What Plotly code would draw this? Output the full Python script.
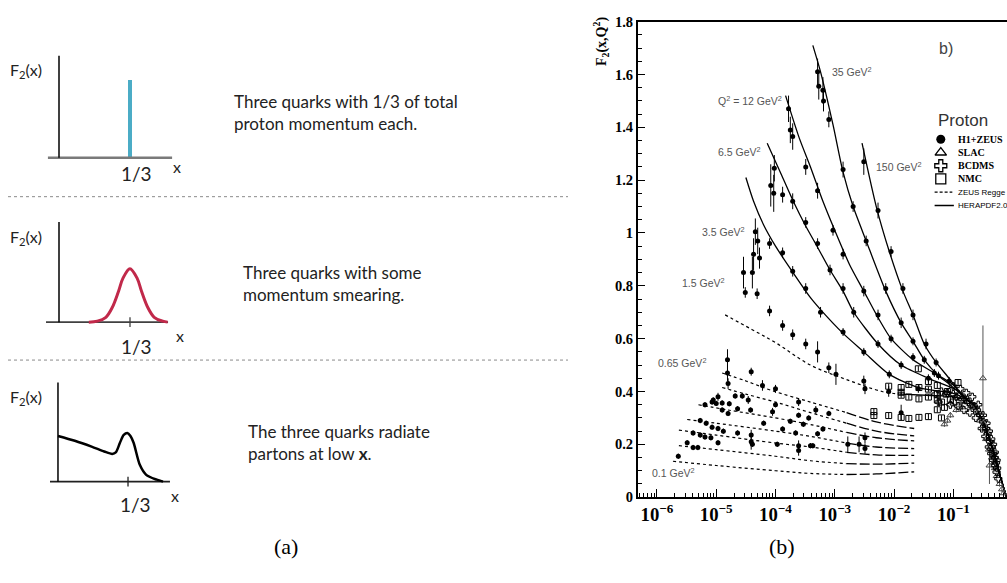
import numpy as np
import plotly.graph_objects as go

W, H = 1007, 583

# ================= Panel (a): schematic sketches (x = momentum fraction, F2 in arb. units) =================
peak_x = 1 / 3
tick_y = [-0.05, 0.05]

axis1_h = [-0.052, 0.531]
axis1_v = [0.0, 1.05]
bar_height = 0.80

axis2_h = [-0.061, 0.512]
axis2_v = [0.0, 1.03]
smear_x = [0.14, 0.18, 0.22, 0.25, 0.28, 0.30, 0.333, 0.367, 0.387, 0.417, 0.447, 0.487, 0.51]
smear_y = [0.0, 0.01, 0.05, 0.15, 0.32, 0.45, 0.55, 0.45, 0.32, 0.15, 0.05, 0.01, 0.0]

axis3_h = [-0.038, 0.533]
axis3_v = [0.0, 1.02]
rad_x = [0.0, 0.08, 0.16, 0.22, 0.258, 0.275, 0.295, 0.313, 0.33, 0.345, 0.36, 0.39, 0.42, 0.47, 0.50]
rad_y = [0.47, 0.42, 0.36, 0.31, 0.285, 0.30, 0.40, 0.48, 0.50, 0.47, 0.40, 0.17, 0.07, 0.02, 0.0]

text1 = "Three quarks with 1/3 of total<br>proton momentum each."
text2 = "Three quarks with some<br>momentum smearing."
text3 = "The three quarks radiate<br>partons at low <b>x</b>."

# ================= Panel (b): F2(x,Q^2) — values as log10(x), F2 =================
# HERAPDF2.0 curves (solid)
c150_lx = [-2.54, -2.3, -2.08, -1.85, -1.68, -1.49, -1.29, -1.07, -0.9]
c150_f2 = [1.34, 1.10, 0.93, 0.78, 0.69, 0.58, 0.51, 0.45, 0.40]
c35_lx = [-3.37, -3.24, -3.03, -2.86, -2.69, -2.47, -2.14, -1.88, -1.68, -1.49, -1.25, -1.08, -0.9]
c35_f2 = [1.71, 1.61, 1.41, 1.23, 1.10, 0.97, 0.78, 0.66, 0.59, 0.52, 0.46, 0.43, 0.395]
c12_lx = [-3.83, -3.6, -3.41, -3.2, -3.0, -2.75, -2.51, -2.27, -2.05, -1.68, -1.32, -1.03, -0.9]
c12_f2 = [1.52, 1.36, 1.25, 1.12, 1.01, 0.88, 0.78, 0.68, 0.60, 0.52, 0.47, 0.43, 0.40]
c6_lx = [-4.14, -3.9, -3.69, -3.5, -3.3, -3.08, -2.86, -2.68, -2.27, -1.88, -1.42, -1.03, -0.9]
c6_f2 = [1.34, 1.22, 1.115, 1.03, 0.95, 0.86, 0.78, 0.70, 0.58, 0.50, 0.45, 0.415, 0.40]
c3_lx = [-4.5, -4.37, -4.2, -4.0, -3.75, -3.41, -3.24, -2.86, -2.51, -2.08, -1.59, -1.03, -0.9]
c3_f2 = [1.21, 1.12, 1.03, 0.95, 0.865, 0.755, 0.71, 0.62, 0.55, 0.465, 0.415, 0.395, 0.385]
c1s_lx = [-1.88, -1.37, -1.0, -0.9]
c1s_f2 = [0.39, 0.385, 0.38, 0.375]
tail_lx = [-0.75, -0.64, -0.5, -0.41, -0.3, -0.24, -0.15, -0.1]
tail_f2 = [0.365, 0.345, 0.285, 0.235, 0.155, 0.105, 0.035, 0.0]

# ZEUS Regge curves (dashed), low Q^2
c1d_lx = [-4.85, -4.4, -4.0, -3.41, -2.8, -2.2, -1.88]
c1d_f2 = [0.69, 0.635, 0.585, 0.50, 0.445, 0.40, 0.39]
cG_lx = [-4.9, -4.5, -4.08, -3.41, -2.8, -2.3, -1.66]
cG_f2 = [0.47, 0.44, 0.405, 0.36, 0.32, 0.285, 0.26]
cF_lx = [-4.9, -4.5, -4.0, -3.41, -2.8, -2.3, -1.66]
cF_f2 = [0.415, 0.39, 0.36, 0.32, 0.28, 0.25, 0.232]
cE_lx = [-5.3, -4.8, -4.0, -3.41, -2.8, -2.3, -1.66]
cE_f2 = [0.35, 0.33, 0.30, 0.275, 0.245, 0.225, 0.213]
cD_lx = [-5.49, -5.0, -4.0, -3.41, -2.8, -2.3, -1.66]
cD_f2 = [0.294, 0.28, 0.25, 0.23, 0.205, 0.19, 0.184]
cC_lx = [-5.63, -5.0, -4.0, -3.41, -2.8, -2.3, -1.66]
cC_f2 = [0.254, 0.235, 0.205, 0.19, 0.17, 0.16, 0.158]
cB_lx = [-5.63, -5.0, -4.0, -3.41, -2.8, -2.3, -1.66]
cB_f2 = [0.195, 0.18, 0.155, 0.138, 0.127, 0.125, 0.129]
cA_lx = [-5.73, -5.0, -4.0, -3.41, -2.8, -2.3, -1.66]
cA_f2 = [0.136, 0.12, 0.10, 0.09, 0.086, 0.088, 0.096]
regge_split = -2.8

# H1+ZEUS data
p150_lx = [-2.51, -2.27, -2.05, -1.85, -1.68, -1.46, -1.29, -1.07]
p150_f2 = [1.27, 1.085, 0.93, 0.79, 0.69, 0.58, 0.51, 0.44]
p150_er = [0.05, 0.03, 0.02, 0.02, 0.02, 0.02, 0.015, 0.015]
p35_lx = [-3.29, -3.27, -3.20, -3.19, -3.10, -2.86, -2.69, -2.47, -2.14, -1.88, -1.68, -1.49, -1.25]
p35_f2 = [1.61, 1.555, 1.54, 1.50, 1.43, 1.24, 1.10, 0.97, 0.79, 0.66, 0.59, 0.52, 0.46]
p35_er = [0.05, 0.05, 0.05, 0.04, 0.03, 0.03, 0.02, 0.02, 0.02, 0.02, 0.015, 0.015, 0.015]
p12_lx = [-3.78, -3.75, -3.71, -3.49, -3.29, -3.03, -2.86, -2.51, -2.27, -2.05, -1.68, -1.32]
p12_f2 = [1.47, 1.39, 1.365, 1.25, 1.16, 1.01, 0.92, 0.78, 0.69, 0.60, 0.53, 0.47]
p12_er = [0.05, 0.05, 0.05, 0.03, 0.03, 0.02, 0.02, 0.02, 0.02, 0.015, 0.015, 0.015]
p6_lx = [-4.08, -4.03, -4.02, -3.88, -3.71, -3.49, -3.29, -3.08, -2.86, -2.68, -2.27, -1.88, -1.42]
p6_f2 = [1.18, 1.15, 1.245, 1.145, 1.12, 1.04, 0.96, 0.86, 0.79, 0.70, 0.58, 0.50, 0.45]
p6_er = [0.08, 0.07, 0.05, 0.03, 0.03, 0.02, 0.02, 0.02, 0.02, 0.02, 0.015, 0.015, 0.015]
p3_lx = [-4.37, -4.34, -4.30, -4.27, -4.10, -3.88, -3.71, -3.49, -3.24, -2.86, -2.51, -2.08, -1.59]
p3_f2 = [0.92, 1.005, 0.97, 0.905, 0.96, 0.925, 0.855, 0.79, 0.70, 0.625, 0.55, 0.465, 0.41]
p3_er = [0.06, 0.05, 0.05, 0.04, 0.02, 0.02, 0.02, 0.02, 0.02, 0.015, 0.015, 0.015, 0.015]
p1_lx = [-4.54, -4.51, -4.39, -4.31, -4.10, -3.88, -3.71, -3.49, -3.29, -3.10, -2.98, -2.51, -2.09]
p1_f2 = [0.85, 0.775, 0.85, 0.77, 0.705, 0.65, 0.615, 0.58, 0.55, 0.49, 0.465, 0.44, 0.40]
p1_er = [0.06, 0.02, 0.06, 0.02, 0.02, 0.02, 0.02, 0.02, 0.04, 0.02, 0.04, 0.02, 0.02]
plow_lx = [-4.81, -4.81, -4.80, -4.41, -4.22, -4.00, -2.49, -1.88,
           -5.19, -5.07, -5.05, -5.00, -4.97, -4.90, -4.78, -4.68, -4.56, -4.46, -4.00, -3.61, -3.32,
           -4.90, -4.80, -4.64, -4.42, -4.05, -3.61, -3.44, -3.10,
           -5.27, -5.17, -5.07, -4.97, -4.88, -4.20, -3.75, -3.53, -3.20,
           -5.39, -5.27, -5.19, -5.09, -4.64, -4.41, -4.41, -3.88, -3.66, -3.29, -2.49,
           -5.49, -5.39, -5.31, -4.97, -4.39, -3.97, -3.61, -3.61, -3.41, -3.37, -2.78, -2.59, -2.49,
           -5.64]
plow_f2 = [0.52, 0.47, 0.43, 0.475, 0.423, 0.41, 0.41, 0.32,
           0.35, 0.36, 0.368, 0.355, 0.38, 0.357, 0.354, 0.383, 0.383, 0.368, 0.35, 0.36, 0.33,
           0.33, 0.317, 0.335, 0.33, 0.323, 0.31, 0.30, 0.317,
           0.29, 0.28, 0.265, 0.26, 0.25, 0.28, 0.287, 0.276, 0.258,
           0.243, 0.235, 0.228, 0.225, 0.243, 0.235, 0.21, 0.258, 0.243, 0.24, 0.225,
           0.206, 0.188, 0.188, 0.206, 0.20, 0.20, 0.195, 0.177, 0.195, 0.195, 0.20, 0.20, 0.184,
           0.155]
plow_er = [0.04, 0.03, 0.02, 0.015, 0.02, 0.015, 0.02, 0.03,
           0.01, 0.01, 0.01, 0.01, 0.015, 0.01, 0.01, 0.01, 0.01, 0.015, 0.01, 0.015, 0.015,
           0.01, 0.01, 0.01, 0.01, 0.015, 0.01, 0.01, 0.01,
           0.01, 0.01, 0.01, 0.01, 0.01, 0.01, 0.01, 0.01, 0.01,
           0.01, 0.01, 0.01, 0.01, 0.01, 0.02, 0.03, 0.01, 0.01, 0.01, 0.02,
           0.01, 0.01, 0.01, 0.01, 0.01, 0.01, 0.02, 0.02, 0.01, 0.01, 0.03, 0.03, 0.02,
           0.01]

# NMC (open squares)
nmc_lx = [-2.34, -2.34, -2.09, -2.09, -1.88, -1.88, -1.88, -1.88, -1.75, -1.75, -1.75, -1.59, -1.58, -1.58, -1.58,
          -1.42, -1.42, -1.42, -1.42, -1.27, -1.27, -1.27, -1.27, -1.20, -1.20, -1.15, -1.12, -1.10, -1.05, -1.00, -0.92]
nmc_f2 = [0.324, 0.309, 0.42, 0.309, 0.415, 0.397, 0.386, 0.302, 0.427, 0.379, 0.298, 0.486, 0.415, 0.372, 0.302,
          0.438, 0.409, 0.379, 0.305, 0.423, 0.39, 0.368, 0.331, 0.36, 0.30, 0.34, 0.39, 0.40, 0.37, 0.36, 0.434]
# SLAC (open triangles)
slac_lx = [-1.15, -1.10, -1.05, -0.95, -0.90, -0.85, -0.80, -0.70, -0.60, -0.55, -0.50, -0.50, -0.45, -0.40, -0.39,
           -0.35, -0.30, -0.27, -0.22, -0.18, -0.15]
slac_f2 = [0.276, 0.29, 0.31, 0.33, 0.35, 0.34, 0.36, 0.345, 0.32, 0.29, 0.26, 0.45, 0.22, 0.18, 0.12,
           0.15, 0.11, 0.08, 0.05, 0.03, 0.015]
slac_er = [0.01, 0.01, 0.01, 0.01, 0.01, 0.01, 0.01, 0.01, 0.01, 0.01, 0.01, 0.20, 0.01, 0.01, 0.07,
           0.01, 0.01, 0.01, 0.01, 0.01, 0.01]
# BCDMS (open crosses)
bcdms_lx = [-1.30, -1.20, -1.10, -1.00, -0.95, -0.90, -0.85, -0.80, -0.75, -0.70, -0.65, -0.60, -0.55, -0.50, -0.45,
            -0.42, -0.38, -0.35, -0.32, -0.30, -0.28, -0.26,
            -1.25, -1.05, -0.92, -0.82, -0.72, -0.62, -0.52, -0.46, -0.40, -0.36, -0.33, -0.30, -0.27, -0.24,
            -1.00, -0.88, -0.78, -0.68, -0.58, -0.50, -0.44, -0.40, -0.36, -0.33, -0.30, -0.27]
bcdms_f2 = [0.39, 0.40, 0.395, 0.39, 0.38, 0.385, 0.37, 0.37, 0.36, 0.35, 0.345, 0.33, 0.31, 0.285, 0.26,
            0.24, 0.21, 0.19, 0.165, 0.15, 0.13, 0.11,
            0.36, 0.35, 0.345, 0.33, 0.32, 0.30, 0.26, 0.23, 0.19, 0.165, 0.14, 0.12, 0.095, 0.07,
            0.42, 0.41, 0.395, 0.38, 0.35, 0.31, 0.28, 0.25, 0.22, 0.20, 0.17, 0.14]

# Q^2 labels: (text, log10 x, F2)
q_labels = ["35 GeV<sup>2</sup>", "Q<sup>2</sup> = 12 GeV<sup>2</sup>", "6.5 GeV<sup>2</sup>", "3.5 GeV<sup>2</sup>",
            "1.5 GeV<sup>2</sup>", "0.65 GeV<sup>2</sup>", "0.1 GeV<sup>2</sup>", "150 GeV<sup>2</sup>"]
q_label_lx = [-3.085, -5.0, -5.0, -5.27, -5.61, -6.02, -6.12, -2.34]
q_label_f2 = [1.612, 1.502, 1.307, 1.005, 0.813, 0.508, 0.092, 1.251]

legend_names = ["<b>H1+ZEUS</b>", "<b>SLAC</b>", "<b>BCDMS</b>", "<b>NMC</b>", "ZEUS Regge", "HERAPDF2.0"]
legend_rows = [0, 1, 2, 3, 4, 5]

# ======================================================================
def X(lx):
    return np.power(10.0, np.asarray(lx, dtype=float))

fig = go.Figure()
SERIF = "Liberation Serif"
SANS = "Liberation Sans"
CAL = "Lato"

# ---- sketches ----
def sketch_axes(xa, ya, hx, vy, hcolor, hwidth):
    fig.add_trace(go.Scatter(x=hx, y=[0, 0], mode="lines", line=dict(color=hcolor, width=hwidth),
                             xaxis=xa, yaxis=ya, hoverinfo="skip"))
    fig.add_trace(go.Scatter(x=[0, 0], y=vy, mode="lines", line=dict(color="black", width=1.5),
                             xaxis=xa, yaxis=ya, hoverinfo="skip"))

fig.add_trace(go.Bar(x=[peak_x], y=[bar_height], width=0.019, marker=dict(color="#4bacc6", line=dict(width=0)),
                     xaxis="x4", yaxis="y4"))
sketch_axes("x4", "y4", axis1_h, axis1_v, "#7a7a7a", 2.5)

sketch_axes("x5", "y5", axis2_h, axis2_v, "#404040", 1.8)
fig.add_trace(go.Scatter(x=[peak_x, peak_x], y=tick_y, mode="lines", line=dict(color="#404040", width=1.3),
                         xaxis="x5", yaxis="y5"))
fig.add_trace(go.Scatter(x=smear_x, y=smear_y, mode="lines", line=dict(color="#c1294a", width=3, shape="spline"),
                         xaxis="x5", yaxis="y5"))

sketch_axes("x6", "y6", axis3_h, axis3_v, "#202020", 1.8)
fig.add_trace(go.Scatter(x=[peak_x, peak_x], y=tick_y, mode="lines", line=dict(color="#202020", width=1.3),
                         xaxis="x6", yaxis="y6"))
fig.add_trace(go.Scatter(x=rad_x, y=rad_y, mode="lines", line=dict(color="black", width=2.5, shape="spline", smoothing=0.8),
                         xaxis="x6", yaxis="y6"))

# ---- F2 curves ----
solid = dict(color="black", width=1.3, shape="spline", smoothing=0.7)
for lx, f2 in [(c150_lx, c150_f2), (c35_lx, c35_f2), (c12_lx, c12_f2), (c6_lx, c6_f2), (c3_lx, c3_f2), (c1s_lx, c1s_f2)]:
    fig.add_trace(go.Scatter(x=X(list(lx) + tail_lx), y=list(f2) + tail_f2, mode="lines", line=solid))
fig.add_trace(go.Scatter(x=X(c1d_lx), y=c1d_f2, mode="lines",
                         line=dict(color="black", width=1.2, dash="3px,3px", shape="spline")))
for lx, f2 in [(cG_lx, cG_f2), (cF_lx, cF_f2), (cE_lx, cE_f2), (cD_lx, cD_f2), (cC_lx, cC_f2), (cB_lx, cB_f2), (cA_lx, cA_f2)]:
    lx = np.asarray(lx); f2 = np.asarray(f2)
    m1 = lx <= regge_split
    m2 = lx >= regge_split
    fig.add_trace(go.Scatter(x=X(lx[m1]), y=f2[m1], mode="lines",
                             line=dict(color="black", width=1.2, dash="3px,3px", shape="spline")))
    fig.add_trace(go.Scatter(x=X(lx[m2]), y=f2[m2], mode="lines",
                             line=dict(color="black", width=1.3, dash="10px,3px", shape="spline")))

# ---- data ----
def err(a, color="black"):
    return dict(type="data", array=a, visible=True, thickness=1, width=0, color=color)

fig.add_trace(go.Scatter(x=X(nmc_lx), y=nmc_f2, mode="markers", error_y=err([0.01] * len(nmc_lx)),
                         marker=dict(symbol="square-open", size=6, color="black", line=dict(width=1))))
fig.add_trace(go.Scatter(x=X(slac_lx), y=slac_f2, mode="markers", error_y=err(slac_er, "#555"),
                         marker=dict(symbol="triangle-up-open", size=6, color="#444", line=dict(width=1))))
fig.add_trace(go.Scatter(x=X(bcdms_lx), y=bcdms_f2, mode="markers",
                         marker=dict(symbol="cross-open", size=6, color="black", line=dict(width=1))))
for lx, f2, e in [(p150_lx, p150_f2, p150_er), (p35_lx, p35_f2, p35_er), (p12_lx, p12_f2, p12_er),
                  (p6_lx, p6_f2, p6_er), (p3_lx, p3_f2, p3_er), (p1_lx, p1_f2, p1_er), (plow_lx, plow_f2, plow_er)]:
    fig.add_trace(go.Scatter(x=X(lx), y=f2, mode="markers", error_y=err(e),
                             marker=dict(symbol="circle", size=5, color="black")))

# ---- legend (own hidden axes) ----
leg_sym_x = 0.14
fig.add_trace(go.Scatter(x=[leg_sym_x], y=[legend_rows[0]], mode="markers", xaxis="x3", yaxis="y3",
                         marker=dict(symbol="circle", size=9, color="black")))
fig.add_trace(go.Scatter(x=[leg_sym_x], y=[legend_rows[1]], mode="markers", xaxis="x3", yaxis="y3",
                         marker=dict(symbol="triangle-up-open", size=10, color="black", line=dict(width=1.3))))
fig.add_trace(go.Scatter(x=[leg_sym_x], y=[legend_rows[2]], mode="markers", xaxis="x3", yaxis="y3",
                         marker=dict(symbol="cross-open", size=10, color="black", line=dict(width=1.3))))
fig.add_trace(go.Scatter(x=[leg_sym_x], y=[legend_rows[3]], mode="markers", xaxis="x3", yaxis="y3",
                         marker=dict(symbol="square-open", size=10, color="black", line=dict(width=1.3))))
fig.add_trace(go.Scatter(x=[0.06, 0.29], y=[legend_rows[4]] * 2, mode="lines", xaxis="x3", yaxis="y3",
                         line=dict(color="black", width=1.3, dash="3px,2px")))
fig.add_trace(go.Scatter(x=[0.06, 0.31], y=[legend_rows[5]] * 2, mode="lines", xaxis="x3", yaxis="y3",
                         line=dict(color="black", width=1.6)))

ann = []
for i, nm in enumerate(legend_names):
    serif = i < 4
    ann.append(dict(text=nm, x=0.34, y=legend_rows[i], xref="x3", yref="y3", xanchor="left", yanchor="middle",
                    showarrow=False,
                    font=dict(family=SERIF if serif else SANS, size=10 if serif else 8, color="black")))
ann.append(dict(text="Proton", x=936 / W, y=1 - 116 / H, xref="paper", yref="paper", xanchor="left",
                yanchor="middle", showarrow=False, font=dict(family=SANS, size=17, color="#333")))
for t, lx, f in zip(q_labels, q_label_lx, q_label_f2):
    ann.append(dict(text=t, x=lx, y=f, xref="x", yref="y", xanchor="left", yanchor="middle", showarrow=False,
                    font=dict(family=SANS, size=10.5, color="#555")))
ann.append(dict(text="b)", x=-1.28, y=1.697, xref="x", yref="y", xanchor="left", yanchor="middle", showarrow=False,
                font=dict(family=SANS, size=16, color="#444")))
ann.append(dict(text="<b>F<sub>2</sub>(x,Q<sup>2</sup>)</b>", x=601 / W, y=1 - 35 / H, xref="paper", yref="paper",
                textangle=-90, xanchor="center", yanchor="middle", showarrow=False,
                font=dict(family=SERIF, size=14, color="black")))

# sketch labels
for xa, ya, fy, th_x, th_y, xl_x, xl_y in [("x4", "y4", 0.90, 0.366, -0.16, 0.554, -0.09),
                                          ("x5", "y5", 0.87, 0.366, -0.25, 0.568, -0.14),
                                          ("x6", "y6", 0.86, 0.371, -0.24, 0.557, -0.14)]:
    ann.append(dict(text="F<sub>2</sub>(x)", x=-0.239, y=fy, xref=xa, yref=ya, xanchor="left", yanchor="middle",
                    showarrow=False, font=dict(family=CAL, size=16, color="#222")))
    ann.append(dict(text="1/3", x=th_x, y=th_y, xref=xa, yref=ya, xanchor="center", yanchor="middle",
                    showarrow=False, font=dict(family=CAL, size=19, color="#222")))
    ann.append(dict(text="x", x=xl_x, y=xl_y, xref=xa, yref=ya, xanchor="center", yanchor="middle",
                    showarrow=False, font=dict(family=CAL, size=16, color="#222")))
for t, px, py in [(text1, 232, 107), (text2, 241, 283), (text3, 246, 447)]:
    ann.append(dict(text=t, x=px / W, y=1 - py / H, xref="paper", yref="paper", xanchor="left", yanchor="middle",
                    align="left", showarrow=False, font=dict(family=CAL, size=17, color="#222")))
ann.append(dict(text="(a)", x=272 / W, y=1 - 569 / H, xref="paper", yref="paper", showarrow=False,
                font=dict(family=SERIF, size=22, color="black")))
ann.append(dict(text="(b)", x=797 / W, y=1 - 569 / H, xref="paper", yref="paper", showarrow=False,
                font=dict(family=SERIF, size=22, color="black")))

shapes = [dict(type="line", xref="paper", yref="paper", x0=8 / W, x1=568 / W, y0=1 - yy / H, y1=1 - yy / H,
               line=dict(color="#8a8a8a", width=1, dash="dot")) for yy in (194, 362)]

hidden = dict(visible=False, showgrid=False, zeroline=False, fixedrange=True)
fig.update_layout(
    width=W, height=H, autosize=False, margin=dict(l=0, r=0, t=0, b=0),
    paper_bgcolor="white", plot_bgcolor="rgba(0,0,0,0)", showlegend=False,
    annotations=ann, shapes=shapes,
    xaxis=dict(type="log", domain=[638 / W, 1.0], range=[-6.32, -0.094], anchor="y",
               showline=True, linecolor="black", linewidth=2, mirror=True,
               ticks="inside", ticklen=8, tickwidth=1.2, tickcolor="black", dtick=1,
               exponentformat="power", showgrid=False, zeroline=False,
               tickfont=dict(family=SERIF, size=15, color="black", weight="bold"),
               minor=dict(ticks="inside", ticklen=4, tickcolor="black", tickwidth=1, dtick="D1", showgrid=False)),
    yaxis=dict(domain=[80 / H, 569 / H], range=[0, 1.8], anchor="x",
               showline=True, linecolor="black", linewidth=2,
               ticks="inside", ticklen=7, tickwidth=1.2, tickcolor="black", tick0=0, dtick=0.2,
               showgrid=False, zeroline=False,
               tickfont=dict(family=SERIF, size=14.5, color="black", weight="bold"),
               minor=dict(ticks="inside", ticklen=3.5, tickcolor="black", tickwidth=1, dtick=0.05, showgrid=False)),
    xaxis3=dict(domain=[930 / W, 1.0], range=[0, 1], anchor="y3", **hidden),
    yaxis3=dict(domain=[(H - 209.8) / H, (H - 128.2) / H], range=[5.5, -0.5], anchor="x3", **hidden),
    xaxis4=dict(domain=[0, 200 / W], range=[-0.277, 0.662], anchor="y4", **hidden),
    yaxis4=dict(domain=[(H - 180) / H, (H - 40) / H], range=[-0.26, 1.14], anchor="x4", **hidden),
    xaxis5=dict(domain=[0, 200 / W], range=[-0.277, 0.662], anchor="y5", **hidden),
    yaxis5=dict(domain=[(H - 350) / H, (H - 205) / H], range=[-0.27, 1.18], anchor="x5", **hidden),
    xaxis6=dict(domain=[0, 200 / W], range=[-0.276, 0.676], anchor="y6", **hidden),
    yaxis6=dict(domain=[(H - 515) / H, (H - 370) / H], range=[-0.28, 1.17], anchor="x6", **hidden),
)

fig.write_html("out.html")
